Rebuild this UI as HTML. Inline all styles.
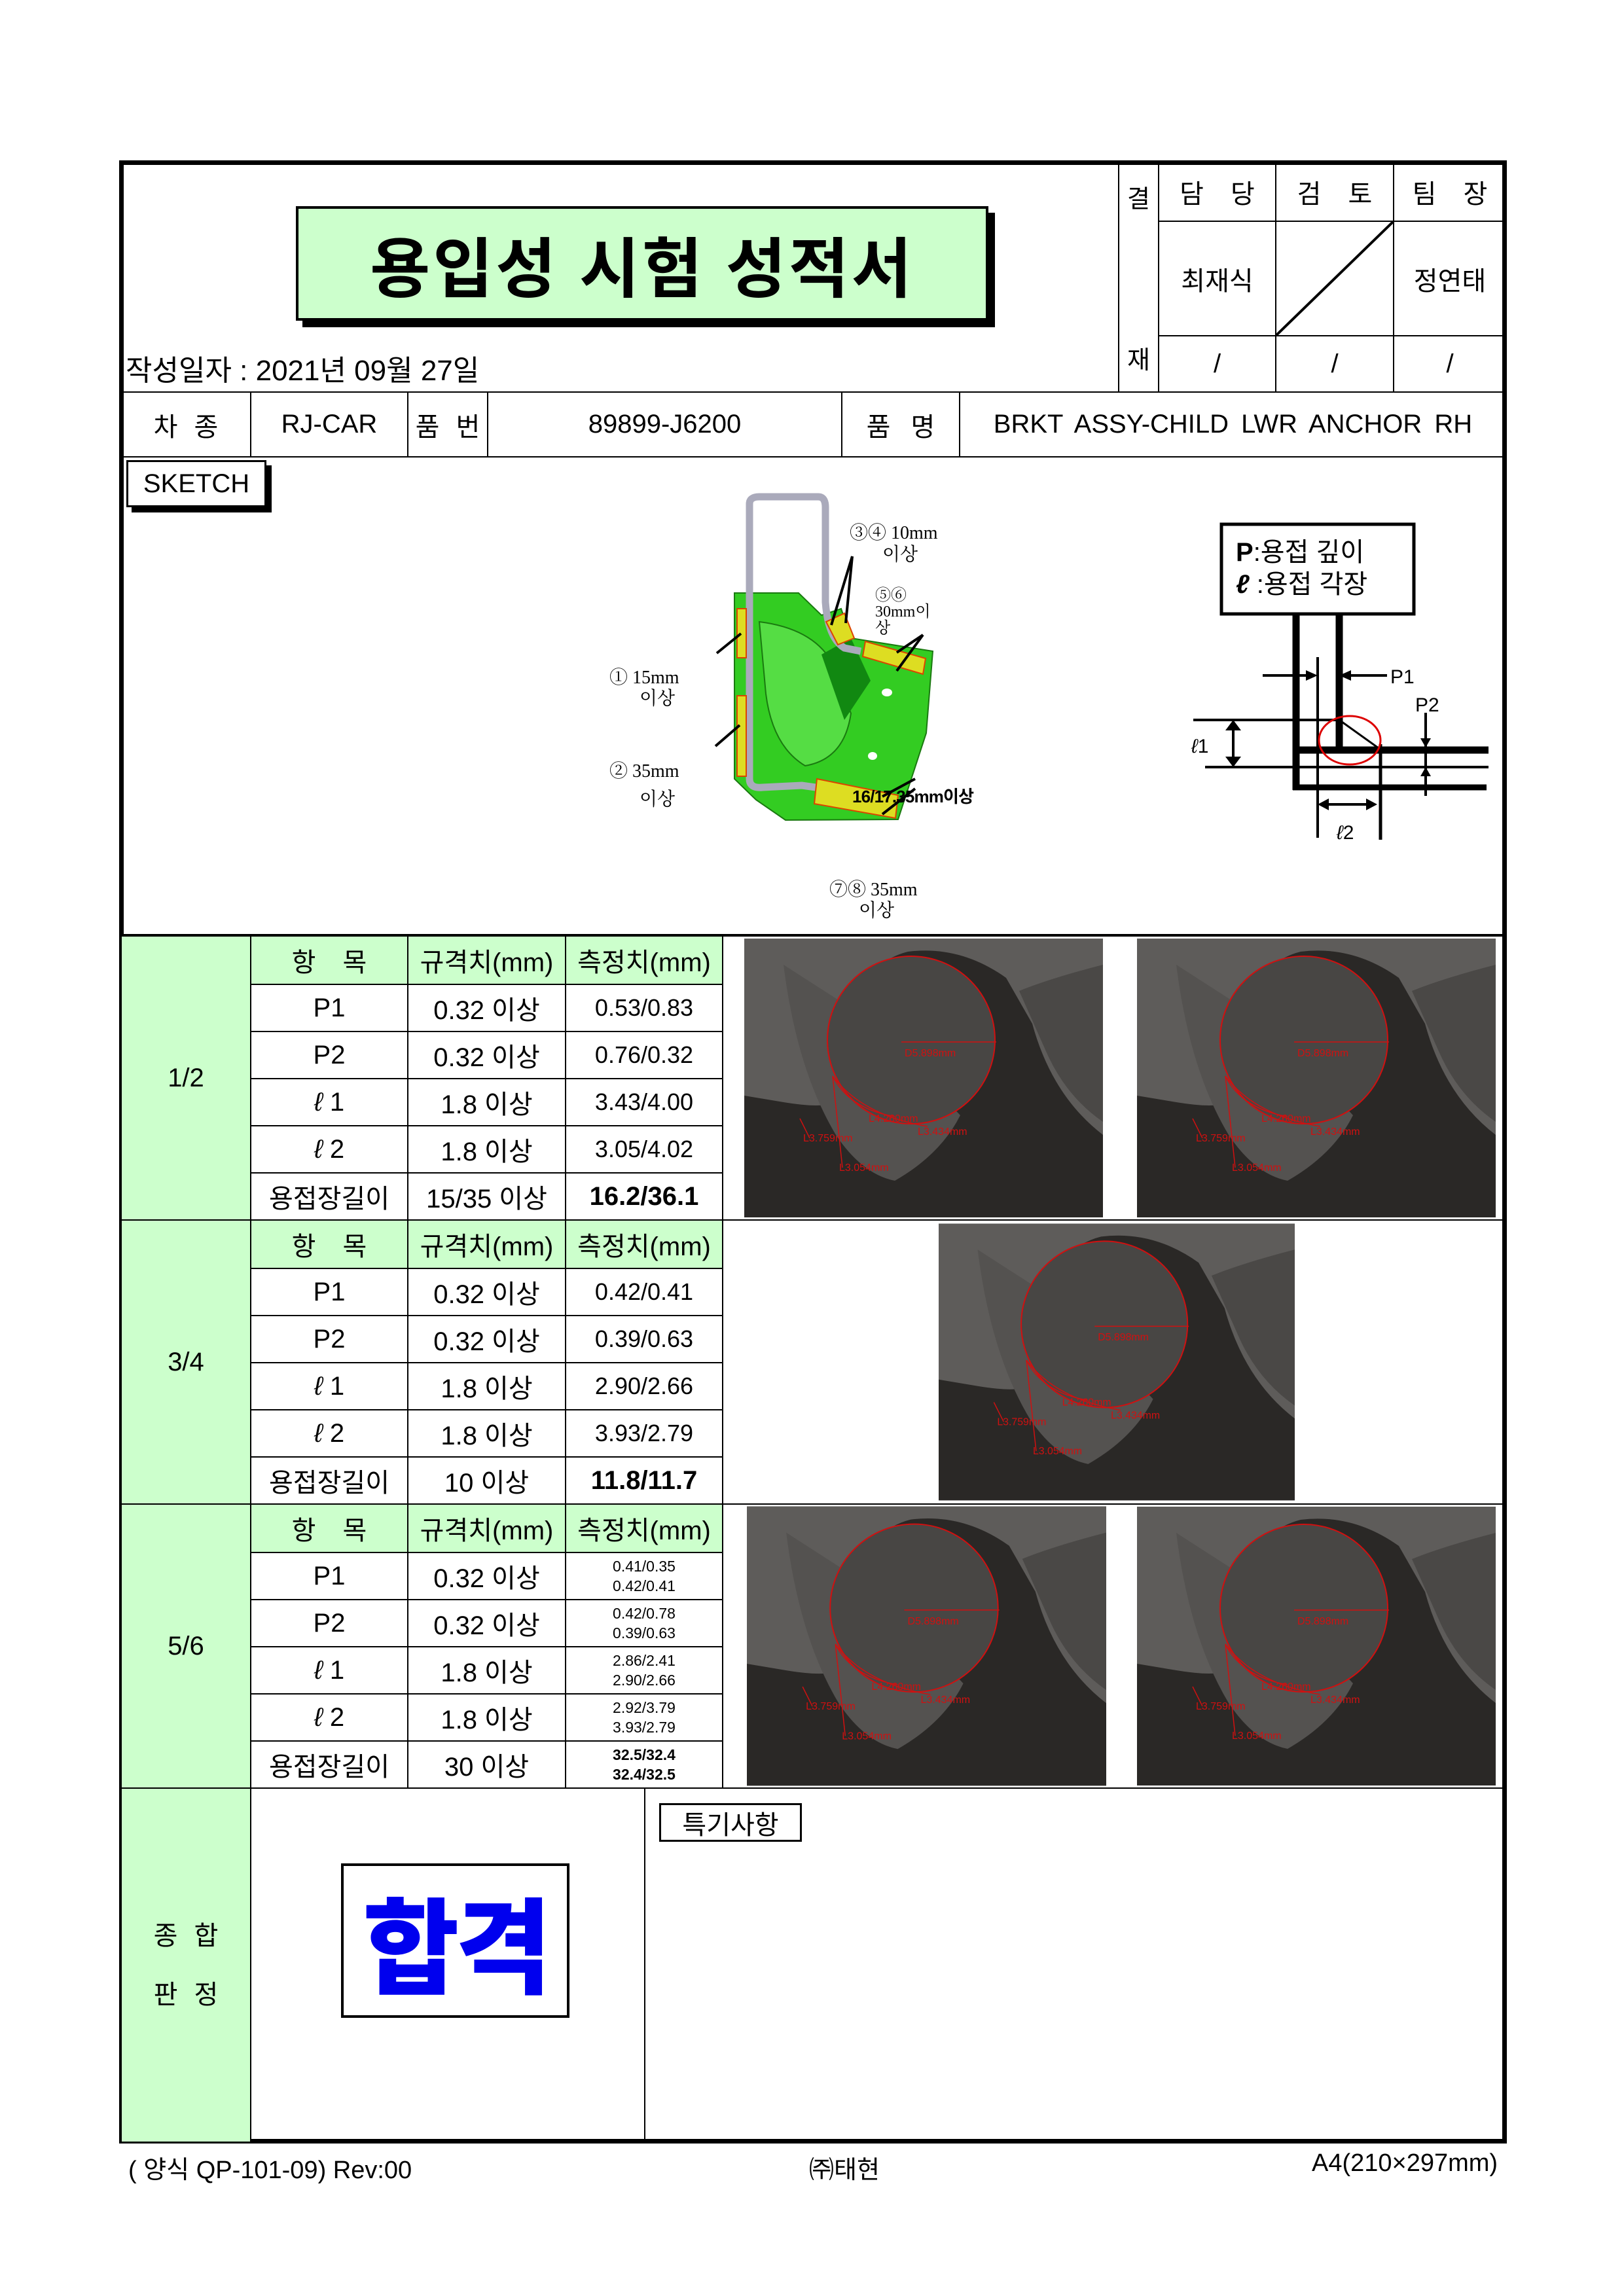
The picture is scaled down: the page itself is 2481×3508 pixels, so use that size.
<!DOCTYPE html>
<html><head><meta charset="utf-8">
<style>
body{margin:0;background:#fff}
#pg{position:relative;width:2481px;height:3508px;overflow:hidden;background:#fff;font-family:"Liberation Sans","Noto Sans CJK KR",sans-serif;color:#000}
.a{position:absolute}
.c{position:absolute;box-sizing:border-box;border:2px solid #000;display:flex;align-items:center;justify-content:center;font-size:40px;white-space:nowrap}
.g{background:#ccffcc}
.sm{font-size:23px;flex-direction:column;line-height:30px}
.b{font-weight:bold}
.t{font-size:40px;position:absolute;white-space:nowrap}
</style></head><body>
<div id="pg">

<div class="a" style="left:182px;top:245px;width:2120px;height:3030px;border:7px solid #000;box-sizing:border-box"></div>

<div class="a" style="left:462px;top:325px;width:1058px;height:175px;background:#000"></div>
<div class="a" style="left:452px;top:315px;width:1058px;height:175px;background:#ccffcc;border:4px solid #000;box-sizing:border-box;display:flex;align-items:center;justify-content:center;font-size:100px;font-weight:bold;letter-spacing:4px">용입성 시험 성적서</div>
<div class="t" style="left:192px;top:530px;font-size:44px">작성일자 : 2021년 09월 27일</div>

<div class="c" style="left:1708px;top:247px;width:63px;height:353px;flex-direction:column;justify-content:space-between;padding:24px 0;font-size:38px"><span>결</span><span>재</span></div>
<div class="c" style="left:1769px;top:247px;width:181px;height:92px;word-spacing:30px">담 당</div>
<div class="c" style="left:1948px;top:247px;width:182px;height:92px;word-spacing:30px">검 토</div>
<div class="c" style="left:2128px;top:247px;width:174px;height:92px;word-spacing:30px">팀 장</div>
<div class="c" style="left:1769px;top:337px;width:181px;height:177px">최재식</div>
<div class="c" style="left:1948px;top:337px;width:182px;height:177px"><svg class="a" style="left:0;top:0" width="178" height="173"><line x1="0" y1="173" x2="178" y2="0" stroke="#000" stroke-width="4"/></svg></div>
<div class="c" style="left:2128px;top:337px;width:174px;height:177px">정연태</div>
<div class="c" style="left:1769px;top:512px;width:181px;height:88px">/</div>
<div class="c" style="left:1948px;top:512px;width:182px;height:88px">/</div>
<div class="c" style="left:2128px;top:512px;width:174px;height:88px">/</div>

<div class="c" style="left:184px;top:598px;width:200px;height:101px;word-spacing:14px">차 종</div>
<div class="c" style="left:382px;top:598px;width:242px;height:101px">RJ-CAR</div>
<div class="c" style="left:622px;top:598px;width:124px;height:101px;word-spacing:14px">품 번</div>
<div class="c" style="left:744px;top:598px;width:543px;height:101px">89899-J6200</div>
<div class="c" style="left:1285px;top:598px;width:182px;height:101px;word-spacing:20px">품 명</div>
<div class="c" style="left:1465px;top:598px;width:837px;height:101px;word-spacing:8px">BRKT ASSY-CHILD LWR ANCHOR RH</div>

<div class="a" style="left:201px;top:711px;width:214px;height:72px;background:#000"></div>
<div class="c" style="left:193px;top:703px;width:214px;height:72px;background:#fff;border-width:3px">SKETCH</div>

<svg class="a" style="left:0;top:0" width="2481" height="1430">
 <g>
  <path d="M1122 906 L1220 906 L1255 940 L1285 930 L1300 975 L1425 995 L1415 1120 L1372 1252 L1200 1253 L1155 1222 L1122 1190 Z" fill="#33cc22" stroke="#1a7a10" stroke-width="2"/>
  <path d="M1160 950 Q1240 960 1270 1010 L1300 1090 Q1290 1160 1230 1170 Q1180 1140 1170 1060 Z" fill="#55dd44" stroke="#1a7a10" stroke-width="2"/>
  <path d="M1255 1000 L1300 975 L1330 1040 L1290 1100 Z" fill="#118811"/>
  <ellipse cx="1355" cy="1058" rx="8" ry="6" fill="#fff"/>
  <ellipse cx="1333" cy="1155" rx="7" ry="6" fill="#fff"/>
  <path d="M1145 950 L1145 770 Q1145 759 1160 759 L1250 759 Q1261 759 1261 775 L1261 920 Q1265 975 1290 990 L1315 995" fill="none" stroke="#aaaabb" stroke-width="11"/>
  <path d="M1145 950 L1145 1190 Q1145 1205 1165 1203 L1225 1200 L1260 1205 L1320 1210" fill="none" stroke="#aaaabb" stroke-width="11"/>
  <rect x="1126" y="930" width="14" height="75" fill="#dddd22" stroke="#dd4400" stroke-width="2"/>
  <rect x="1126" y="1063" width="14" height="123" fill="#dddd22" stroke="#dd4400" stroke-width="2"/>
  <path d="M1262 950 L1290 937 L1305 975 L1280 985 Z" fill="#dddd22" stroke="#dd4400" stroke-width="2"/>
  <path d="M1322 980 L1414 1006 L1410 1030 L1318 1003 Z" fill="#dddd22" stroke="#dd4400" stroke-width="2"/>
  <path d="M1248 1190 L1372 1215 L1368 1250 L1244 1228 Z" fill="#dddd22" stroke="#dd4400" stroke-width="2"/>
  <g stroke="#000" stroke-width="4">
   <line x1="1095" y1="998" x2="1132" y2="968"/><line x1="1093" y1="1140" x2="1130" y2="1108"/>
   <line x1="1270" y1="955" x2="1302" y2="850"/><line x1="1292" y1="952" x2="1302" y2="850"/>
   <line x1="1370" y1="997" x2="1410" y2="970"/><line x1="1370" y1="1025" x2="1410" y2="970"/>
   <line x1="1348" y1="1217" x2="1398" y2="1190"/><line x1="1348" y1="1244" x2="1398" y2="1205"/>
  </g>
 </g>
 <g font-family="Liberation Serif,Noto Serif CJK SC,serif" font-size="28">
  <text x="1298" y="823">③④ 10mm</text><text x="1348" y="856">이상</text>
  <text x="1337" y="917" font-size="24">⑤⑥</text><text x="1337" y="942" font-size="24">30mm이</text><text x="1337" y="967" font-size="24">상</text>
  <text x="931" y="1044">① 15mm</text><text x="977" y="1076">이상</text>
  <text x="931" y="1187">② 35mm</text><text x="977" y="1230">이상</text>
  <text x="1302" y="1226" font-family="Liberation Sans,Noto Sans CJK KR,sans-serif" font-weight="bold" font-size="26" textLength="186">16/17.35mm이상</text>
  <text x="1267" y="1368">⑦⑧ 35mm</text><text x="1312" y="1400">이상</text>
 </g>
 <g>
  <rect x="1866" y="801" width="294" height="137" fill="#fff" stroke="#000" stroke-width="5"/>
  <text x="1888" y="857" font-size="40"><tspan font-weight="bold">P</tspan>:용접 깊이</text>
  <text x="1888" y="906" font-size="40"><tspan font-weight="bold" font-style="italic">ℓ</tspan> :용접 각장</text>
  <g stroke="#000">
   <line x1="1980" y1="940" x2="1980" y2="1207" stroke-width="11"/>
   <line x1="2046" y1="936" x2="2046" y2="1149" stroke-width="11"/>
   <line x1="1975" y1="1146" x2="2274" y2="1146" stroke-width="11"/>
   <line x1="1975" y1="1203" x2="2271" y2="1203" stroke-width="9"/>
   <line x1="1823" y1="1100" x2="2046" y2="1100" stroke-width="4"/>
   <line x1="1841" y1="1172" x2="2274" y2="1172" stroke-width="4"/>
   <line x1="2013" y1="1004" x2="2013" y2="1280" stroke-width="4"/>
   <line x1="2109" y1="1137" x2="2109" y2="1283" stroke-width="5"/>
   <line x1="2178" y1="1089" x2="2178" y2="1216" stroke-width="4"/>
   <line x1="1929" y1="1032" x2="2005" y2="1032" stroke-width="4"/>
   <line x1="2055" y1="1032" x2="2119" y2="1032" stroke-width="4"/>
   <line x1="1884" y1="1108" x2="1884" y2="1165" stroke-width="4"/>
   <line x1="2020" y1="1229" x2="2100" y2="1229" stroke-width="4"/>
   <line x1="2046" y1="1100" x2="2106" y2="1143" stroke-width="3"/>
  </g>
  <g fill="#000">
   <polygon points="2013,1032 1995,1024 1995,1040"/><polygon points="2046,1032 2064,1024 2064,1040"/>
   <polygon points="2178,1142 2170,1128 2186,1128"/><polygon points="2178,1172 2170,1186 2186,1186"/>
   <polygon points="1884,1100 1872,1116 1896,1116"/><polygon points="1884,1172 1872,1156 1896,1156"/>
   <polygon points="2013,1229 2030,1220 2030,1238"/><polygon points="2104,1229 2087,1220 2087,1238"/>
  </g>
  <ellipse cx="2062" cy="1131" rx="47" ry="37" fill="none" stroke="#dd0000" stroke-width="3"/>
  <text x="2124" y="1044" font-size="30">P1</text>
  <text x="2162" y="1087" font-size="30">P2</text>
  <text x="1820" y="1150" font-size="30"><tspan font-style="italic">ℓ</tspan>1</text>
  <text x="2042" y="1282" font-size="30"><tspan font-style="italic">ℓ</tspan>2</text>
 </g>
</svg>
<div class="a" style="left:184px;top:1427px;width:2118px;height:3px;background:#000"></div>

<!-- Section 1/2 -->
<div class="c g" style="left:184px;top:1429px;width:200px;height:436px">1/2</div>
<div class="c g" style="left:382px;top:1429px;width:242px;height:76px;word-spacing:30px">항 목</div>
<div class="c g" style="left:622px;top:1429px;width:243px;height:76px">규격치(mm)</div>
<div class="c g" style="left:863px;top:1429px;width:242px;height:76px">측정치(mm)</div>
<div class="c" style="left:382px;top:1503px;width:242px;height:74px">P1</div>
<div class="c" style="left:622px;top:1503px;width:243px;height:74px">0.32 이상</div>
<div class="c" style="left:863px;top:1503px;width:242px;height:74px;font-size:36px">0.53/0.83</div>
<div class="c" style="left:382px;top:1575px;width:242px;height:74px">P2</div>
<div class="c" style="left:622px;top:1575px;width:243px;height:74px">0.32 이상</div>
<div class="c" style="left:863px;top:1575px;width:242px;height:74px;font-size:36px">0.76/0.32</div>
<div class="c" style="left:382px;top:1647px;width:242px;height:74px"><i>ℓ</i>&nbsp;1</div>
<div class="c" style="left:622px;top:1647px;width:243px;height:74px">1.8 이상</div>
<div class="c" style="left:863px;top:1647px;width:242px;height:74px;font-size:36px">3.43/4.00</div>
<div class="c" style="left:382px;top:1719px;width:242px;height:74px"><i>ℓ</i>&nbsp;2</div>
<div class="c" style="left:622px;top:1719px;width:243px;height:74px">1.8 이상</div>
<div class="c" style="left:863px;top:1719px;width:242px;height:74px;font-size:36px">3.05/4.02</div>
<div class="c" style="left:382px;top:1791px;width:242px;height:74px">용접장길이</div>
<div class="c" style="left:622px;top:1791px;width:243px;height:74px">15/35 이상</div>
<div class="c b" style="left:863px;top:1791px;width:242px;height:74px">16.2/36.1</div>
<div class="c" style="left:1103px;top:1429px;width:1199px;height:436px;border-left:none;border-right:none"></div>

<!-- Section 3/4 -->
<div class="c g" style="left:184px;top:1863px;width:200px;height:436px">3/4</div>
<div class="c g" style="left:382px;top:1863px;width:242px;height:76px;word-spacing:30px">항 목</div>
<div class="c g" style="left:622px;top:1863px;width:243px;height:76px">규격치(mm)</div>
<div class="c g" style="left:863px;top:1863px;width:242px;height:76px">측정치(mm)</div>
<div class="c" style="left:382px;top:1937px;width:242px;height:74px">P1</div>
<div class="c" style="left:622px;top:1937px;width:243px;height:74px">0.32 이상</div>
<div class="c" style="left:863px;top:1937px;width:242px;height:74px;font-size:36px">0.42/0.41</div>
<div class="c" style="left:382px;top:2009px;width:242px;height:74px">P2</div>
<div class="c" style="left:622px;top:2009px;width:243px;height:74px">0.32 이상</div>
<div class="c" style="left:863px;top:2009px;width:242px;height:74px;font-size:36px">0.39/0.63</div>
<div class="c" style="left:382px;top:2081px;width:242px;height:74px"><i>ℓ</i>&nbsp;1</div>
<div class="c" style="left:622px;top:2081px;width:243px;height:74px">1.8 이상</div>
<div class="c" style="left:863px;top:2081px;width:242px;height:74px;font-size:36px">2.90/2.66</div>
<div class="c" style="left:382px;top:2153px;width:242px;height:74px"><i>ℓ</i>&nbsp;2</div>
<div class="c" style="left:622px;top:2153px;width:243px;height:74px">1.8 이상</div>
<div class="c" style="left:863px;top:2153px;width:242px;height:74px;font-size:36px">3.93/2.79</div>
<div class="c" style="left:382px;top:2225px;width:242px;height:74px">용접장길이</div>
<div class="c" style="left:622px;top:2225px;width:243px;height:74px">10 이상</div>
<div class="c b" style="left:863px;top:2225px;width:242px;height:74px">11.8/11.7</div>
<div class="c" style="left:1103px;top:1863px;width:1199px;height:436px;border-left:none;border-right:none"></div>

<!-- Section 5/6 -->
<div class="c g" style="left:184px;top:2297px;width:200px;height:436px">5/6</div>
<div class="c g" style="left:382px;top:2297px;width:242px;height:76px;word-spacing:30px">항 목</div>
<div class="c g" style="left:622px;top:2297px;width:243px;height:76px">규격치(mm)</div>
<div class="c g" style="left:863px;top:2297px;width:242px;height:76px">측정치(mm)</div>
<div class="c" style="left:382px;top:2371px;width:242px;height:74px">P1</div>
<div class="c" style="left:622px;top:2371px;width:243px;height:74px">0.32 이상</div>
<div class="c sm" style="left:863px;top:2371px;width:242px;height:74px"><span>0.41/0.35</span><span>0.42/0.41</span></div>
<div class="c" style="left:382px;top:2443px;width:242px;height:74px">P2</div>
<div class="c" style="left:622px;top:2443px;width:243px;height:74px">0.32 이상</div>
<div class="c sm" style="left:863px;top:2443px;width:242px;height:74px"><span>0.42/0.78</span><span>0.39/0.63</span></div>
<div class="c" style="left:382px;top:2515px;width:242px;height:74px"><i>ℓ</i>&nbsp;1</div>
<div class="c" style="left:622px;top:2515px;width:243px;height:74px">1.8 이상</div>
<div class="c sm" style="left:863px;top:2515px;width:242px;height:74px"><span>2.86/2.41</span><span>2.90/2.66</span></div>
<div class="c" style="left:382px;top:2587px;width:242px;height:74px"><i>ℓ</i>&nbsp;2</div>
<div class="c" style="left:622px;top:2587px;width:243px;height:74px">1.8 이상</div>
<div class="c sm" style="left:863px;top:2587px;width:242px;height:74px"><span>2.92/3.79</span><span>3.93/2.79</span></div>
<div class="c" style="left:382px;top:2659px;width:242px;height:74px">용접장길이</div>
<div class="c" style="left:622px;top:2659px;width:243px;height:74px">30 이상</div>
<div class="c sm b" style="left:863px;top:2659px;width:242px;height:74px"><span>32.5/32.4</span><span>32.4/32.5</span></div>
<div class="c" style="left:1103px;top:2297px;width:1199px;height:436px;border-left:none;border-right:none"></div>

<svg width="0" height="0" style="position:absolute">
 <defs>
  <symbol id="ph" viewBox="0 0 548 426">
   <rect width="548" height="426" fill="#2a2826"/>
   <path d="M0 0 L548 0 L548 300 Q470 240 440 130 L400 60 Q330 10 250 20 Q170 40 150 160 L140 250 Q120 260 60 250 L0 240 Z" fill="#5e5c5a"/>
   <path d="M60 40 Q80 200 140 300 Q180 360 230 370 Q300 330 330 270 L200 130 Z" fill="#545250"/>
   <path d="M420 80 Q470 60 548 40 L548 280 Q490 240 460 170 Z" fill="#4a4846"/>
   <circle cx="255" cy="155" r="128" fill="#484644" stroke="#d01010" stroke-width="2"/>
   <g stroke="#d01010" stroke-width="1.5" fill="none">
    <line x1="240" y1="158" x2="385" y2="158"/>
    <line x1="135" y1="210" x2="150" y2="350"/>
    <path d="M135 210 Q180 270 280 287"/><path d="M135 210 Q160 260 230 272"/>
    <line x1="85" y1="275" x2="100" y2="305"/>
   </g>
   <g fill="#d01010" font-size="16" font-family="Liberation Sans,sans-serif">
    <text x="245" y="180">D5.898mm</text><text x="190" y="280">L4.260mm</text>
    <text x="265" y="300">L3.434mm</text><text x="90" y="310">L3.759mm</text><text x="145" y="355">L3.054mm</text>
   </g>
  </symbol>
 </defs>
</svg>
<svg class="a" style="left:1137px;top:1433px" width="548" height="428"><use href="#ph"/></svg>
<svg class="a" style="left:1737px;top:1433px" width="548" height="428"><use href="#ph"/></svg>
<svg class="a" style="left:1434px;top:1867px" width="544" height="428"><use href="#ph"/></svg>
<svg class="a" style="left:1141px;top:2301px" width="549" height="428"><use href="#ph"/></svg>
<svg class="a" style="left:1737px;top:2301px" width="548" height="428"><use href="#ph"/></svg>

<!-- Bottom -->
<div class="c g" style="left:184px;top:2731px;width:200px;height:543px;flex-direction:column;line-height:90px;word-spacing:14px"><span>종 합</span><span>판 정</span></div>
<div class="c" style="left:382px;top:2731px;width:604px;height:543px"></div>
<div class="c" style="left:984px;top:2731px;width:1318px;height:543px"></div>
<div class="c" style="left:521px;top:2847px;width:349px;height:236px;border-width:4px;color:#0000ee;font-size:160px;font-weight:900;letter-spacing:-6px">합격</div>
<div class="c" style="left:1007px;top:2755px;width:218px;height:59px;border-width:3px;font-size:40px">특기사항</div>

<div class="t" style="left:196px;top:3284px;font-size:38px">( 양식 QP-101-09) Rev:00</div>
<div class="t" style="left:1236px;top:3284px;font-size:38px">㈜태현</div>
<div class="t" style="left:2004px;top:3284px;font-size:38px">A4(210×297mm)</div>

</div>
</body></html>
